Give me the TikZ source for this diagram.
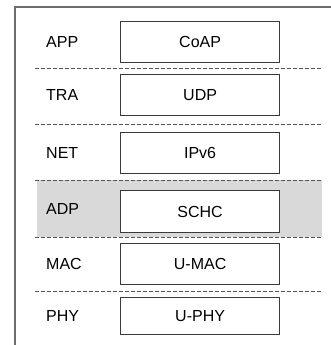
\documentclass[tikz,border=0pt]{standalone}
\usepackage{fontspec}
\setmainfont{Liberation Sans}
\definecolor{boxline}{HTML}{3A3A3A}
\definecolor{frameline}{HTML}{6E6E6E}
\definecolor{sepline}{HTML}{555555}
\definecolor{bandfill}{HTML}{D9D9D9}
\begin{document}
\begin{tikzpicture}[x=1pt,y=-1pt,
  layerbox/.style={draw=boxline,line width=1.2pt,fill=white,minimum width=159pt,inner sep=0pt,font=\fontsize{16}{18}\selectfont,anchor=north west},
  layerlabel/.style={anchor=west,inner sep=0pt,font=\fontsize{16}{18}\selectfont},
  sep/.style={draw=sepline,line width=1pt,dash pattern=on 4pt off 2pt}]
\useasboundingbox (0,0) rectangle (331,345);
\fill[white] (0,0) rectangle (331,345);
% outer frame
\draw[frameline,line width=2pt] (14.5,347) -- (14.5,7.5) -- (333,7.5);
% highlighted band
\fill[bandfill] (37,180) rectangle (322,237);
% separators
\foreach \yy in {68,124,180,237,291} \draw[sep] (35,\yy) -- (322,\yy);
% boxes
\node[layerbox,minimum height=41pt] (coap) at (120,21) {CoAP};
\node[layerbox,minimum height=41pt] (udp) at (120,74) {UDP};
\node[layerbox,minimum height=41pt] (ipv6) at (120,132) {IPv6};
\node[layerbox,minimum height=42pt] (schc) at (120,190) {SCHC};
\node[layerbox,minimum height=41pt] (umac) at (120,243) {U-MAC};
\node[layerbox,minimum height=37pt] (uphy) at (120,297) {U-PHY};
% labels
\node[layerlabel] (app) at (46,42) {APP};
\node[layerlabel] (tra) at (46,95) {TRA};
\node[layerlabel] (net) at (46,152.5) {NET};
\node[layerlabel] (adp) at (46,209) {ADP};
\node[layerlabel] (mac) at (46,263.5) {MAC};
\node[layerlabel] (phy) at (46,315.5) {PHY};
\end{tikzpicture}
\end{document}
